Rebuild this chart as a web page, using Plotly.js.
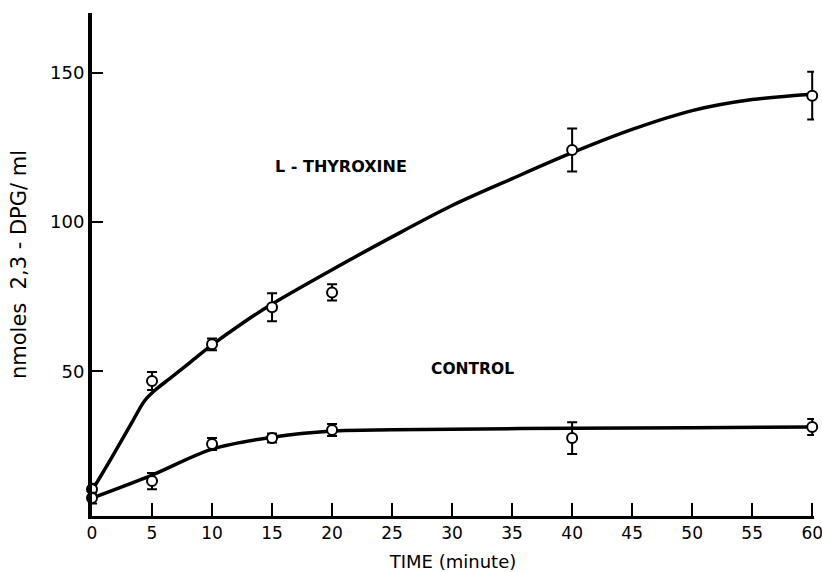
<!DOCTYPE html>
<html>
<head>
<meta charset="utf-8">
<script src="https://cdn.plot.ly/plotly-3.0.1.min.js"></script>
<style>html,body{margin:0;padding:0;background:#fff;}#chart{width:822px;height:572px;}</style>
</head>
<body>
<div id="chart"></div>
<script>
// Measured points (time in minutes)
const timeMin = [0, 5, 10, 15, 20, 40, 60];
const thyroxine = [10.5, 46.7, 59.0, 71.4, 76.4, 124.1, 142.3];
const thyroxineErr = [1.8, 3.0, 2.0, 4.7, 2.7, 7.2, 8.0];
const control = [7.5, 13.2, 25.6, 27.6, 30.3, 27.6, 31.3];
const controlErr = [1.8, 2.7, 2.0, 1.5, 2.0, 5.3, 2.7];

// Hand-drawn fitted curves
const thyroxineCurveX = [0, 1.7, 3.4, 4.4, 5.3, 6.5, 8, 10, 12.5, 15, 20, 25, 30, 35, 40, 45, 50, 55, 60];
const thyroxineCurveY = [10, 21.5, 33.4, 40.2, 43.8, 47.6, 52.4, 58.8, 66, 72.5, 84, 95, 105.5, 114.5, 123.2, 131, 137.3, 141, 142.8];
const controlCurveX = [0, 5, 10, 15, 20, 25, 30, 40, 50, 60];
const controlCurveY = [7.5, 15.2, 23.9, 27.9, 30, 30.4, 30.6, 30.9, 31.1, 31.3];

const xTicks = [0, 5, 10, 15, 20, 25, 30, 35, 40, 45, 50, 55, 60];
const yTicks = [50, 100, 150];
const seriesLabels = ['L - THYROXINE', 'CONTROL'];

const font = 'DejaVu Sans, sans-serif';

const curveLine = {color: '#000', width: 3.5, shape: 'spline', smoothing: 0.9};
const markerStyle = {symbol: 'circle', size: 10, color: '#fff', line: {color: '#000', width: 2}};

const traces = [
  {x: thyroxineCurveX, y: thyroxineCurveY, mode: 'lines', line: curveLine, hoverinfo: 'skip', showlegend: false},
  {x: controlCurveX, y: controlCurveY, mode: 'lines', line: curveLine, hoverinfo: 'skip', showlegend: false},
  {x: timeMin, y: thyroxine, mode: 'markers', marker: markerStyle, showlegend: false, cliponaxis: false,
   error_y: {type: 'data', array: thyroxineErr, visible: true, color: '#000', thickness: 2, width: 5}},
  {x: timeMin, y: control, mode: 'markers', marker: markerStyle, showlegend: false, cliponaxis: false,
   error_y: {type: 'data', array: controlErr, visible: true, color: '#000', thickness: 2, width: 5}}
];

const layout = {
  width: 822, height: 572,
  margin: {l: 92, r: 8, t: 13, b: 56},
  paper_bgcolor: '#fff', plot_bgcolor: '#fff',
  font: {family: font, color: '#000', size: 16},
  showlegend: false,
  xaxis: {
    range: [0, 60.15], tickvals: xTicks, ticktext: xTicks.map(String),
    ticks: 'inside', ticklen: 13, tickwidth: 2, tickcolor: '#000',
    ticklabeloverflow: 'allow',
    showline: true, linewidth: 3, linecolor: '#000', mirror: false,
    showgrid: false, zeroline: false,
    tickfont: {family: font, size: 17, color: '#000'},
    title: {text: 'TIME (minute)', font: {family: font, size: 18, color: '#000'}, standoff: 14}
  },
  yaxis: {
    range: [1.5, 170], tickvals: yTicks, ticktext: yTicks.map(String),
    ticks: 'inside', ticklen: 11, tickwidth: 2, tickcolor: '#000',
    showline: true, linewidth: 4, linecolor: '#000',
    showgrid: false, zeroline: false,
    tickfont: {family: font, size: 18, color: '#000'},
    title: {text: 'nmoles  2,3 - DPG/ ml', font: {family: font, size: 21, color: '#000'}, standoff: 19}
  },
  annotations: [
    {x: 20.75, y: 118.7, xref: 'x', yref: 'y', text: '<b>' + seriesLabels[0] + '</b>', showarrow: false,
     xanchor: 'center', yanchor: 'middle', font: {family: font, size: 16, color: '#000'}},
    {x: 31.7, y: 50.7, xref: 'x', yref: 'y', text: '<b>' + seriesLabels[1] + '</b>', showarrow: false,
     xanchor: 'center', yanchor: 'middle', font: {family: font, size: 15.5, color: '#000'}}
  ]
};

Plotly.newPlot('chart', traces, layout, {displayModeBar: false, staticPlot: true});
</script>
</body>
</html>
